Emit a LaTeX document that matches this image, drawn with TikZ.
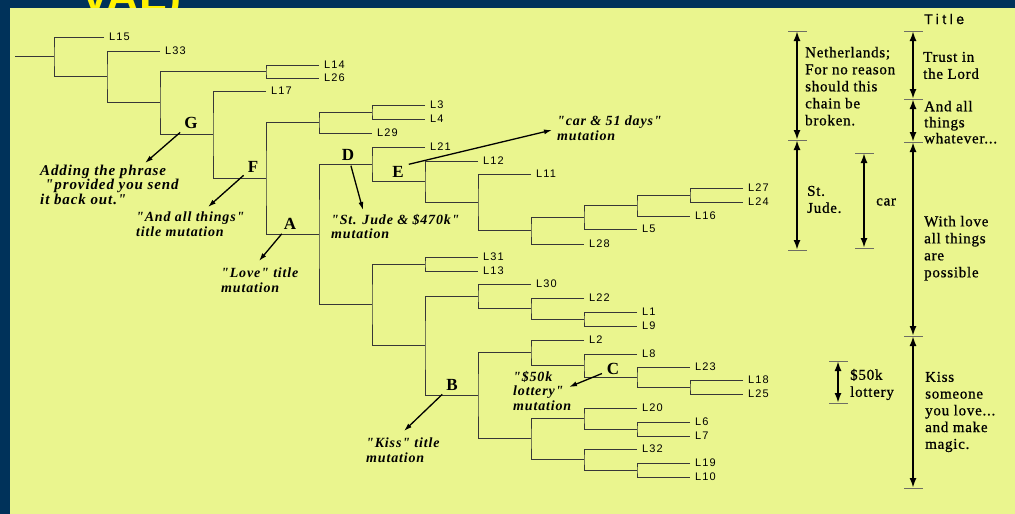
\documentclass[tikz,border=0pt]{standalone}
\usepackage{fontspec}
\setmainfont{Liberation Serif}
\newfontfamily\leaffont[LetterSpace=10]{Liberation Sans}
\newfontfamily\titlefont[LetterSpace=25,FakeBold=1]{Liberation Sans}
\newfontfamily\headfont{Liberation Sans}
\newfontfamily\notefont[LetterSpace=6]{Liberation Serif}
\newfontfamily\sidefont[LetterSpace=5,FakeBold=0.8]{Liberation Serif}
\usetikzlibrary{arrows.meta}
\definecolor{slidebg}{RGB}{0,50,90}
\definecolor{panel}{RGB}{234,245,142}
\definecolor{treegray}{RGB}{55,55,55}
\definecolor{tickgray}{RGB}{110,110,100}

\begin{document}
\begin{tikzpicture}[x=1pt,y=-1pt]
\tikzset{branch/.style={draw=treegray, line width=0.9pt},
  leaf/.style={anchor=west, inner sep=0pt, inner xsep=5pt, font=\leaffont\fontsize{11}{12}\selectfont},
  clade/.style={font=\bfseries\fontsize{17}{18}\selectfont, inner sep=1pt},
  note/.style={anchor=north west, align=left, inner sep=0pt, font=\notefont\bfseries\itshape\fontsize{14}{14.5}\selectfont},
  notearrow/.style={draw, line width=1.3pt, shorten <=4pt, -{Latex[length=8pt,width=5pt]}},
  side/.style={anchor=north west, align=left, inner sep=0pt, font=\sidefont\fontsize{15}{17}\selectfont},
  span/.style={line width=2.2pt, {Latex[length=10pt,width=7pt]}-{Latex[length=10pt,width=7pt]}},
  tick/.style={draw=tickgray, line width=0.9pt}}
\useasboundingbox (0,0) rectangle (1015,514);
\fill[slidebg] (0,0) rectangle (1015,514);
\node[anchor=base west, inner sep=0pt, text=yellow, font=\headfont\bfseries\fontsize{45}{45}\selectfont] (head) at (80,12) {VAL)};
\fill[panel] (10,8) rectangle (1015,514);

% internal nodes of the tree
\coordinate (stub) at (15,56.5);
\coordinate (root) at (54,56.5);
\coordinate (n1) at (107,76.5);
\coordinate (n2) at (160,102.5);
\coordinate (n3) at (266,71.5);
\coordinate (g) at (213,134);
\coordinate (f) at (266,178);
\coordinate (n4) at (319,122.5);
\coordinate (n5) at (372,112);
\coordinate (a) at (319,234);
\coordinate (d) at (372,164);
\coordinate (e) at (425,181.5);
\coordinate (n7) at (478,202.5);
\coordinate (n8) at (531,230);
\coordinate (n9) at (584,217);
\coordinate (n10) at (637,205);
\coordinate (n11) at (690,195);
\coordinate (n6) at (372,304);
\coordinate (n12) at (425,264);
\coordinate (n13) at (425,345);
\coordinate (n14) at (478,296);
\coordinate (n15) at (531,308);
\coordinate (n16) at (584,319);
\coordinate (b) at (478,395);
\coordinate (n17) at (531,352);
\coordinate (c) at (584,365.5);
\coordinate (n19) at (637,377);
\coordinate (n20) at (690,387);
\coordinate (n18) at (531,438.5);
\coordinate (n21) at (584,418);
\coordinate (n23) at (637,429);
\coordinate (n22) at (584,459.5);
\coordinate (n24) at (637,470);

% leaves
\node[leaf] (L15) at (104,37) {L15};
\node[leaf] (L33) at (160,51) {L33};
\node[leaf] (L14) at (319,65) {L14};
\node[leaf] (L26) at (319,78) {L26};
\node[leaf] (L17) at (266,91) {L17};
\node[leaf] (L3) at (425,105) {L3};
\node[leaf] (L4) at (425,119) {L4};
\node[leaf] (L29) at (372,133) {L29};
\node[leaf] (L21) at (425,147) {L21};
\node[leaf] (L12) at (478,161) {L12};
\node[leaf] (L11) at (531,174) {L11};
\node[leaf] (L27) at (743,188) {L27};
\node[leaf] (L24) at (743,202) {L24};
\node[leaf] (L16) at (690,216) {L16};
\node[leaf] (L5) at (637,229) {L5};
\node[leaf] (L28) at (584,244) {L28};
\node[leaf] (L31) at (478,257) {L31};
\node[leaf] (L13) at (478,271) {L13};
\node[leaf] (L30) at (531,284) {L30};
\node[leaf] (L22) at (584,298) {L22};
\node[leaf] (L1) at (637,312) {L1};
\node[leaf] (L9) at (637,326) {L9};
\node[leaf] (L2) at (584,340) {L2};
\node[leaf] (L8) at (637,354) {L8};
\node[leaf] (L23) at (690,367) {L23};
\node[leaf] (L18) at (743,380) {L18};
\node[leaf] (L25) at (743,394) {L25};
\node[leaf] (L20) at (637,408) {L20};
\node[leaf] (L6) at (690,422) {L6};
\node[leaf] (L7) at (690,436) {L7};
\node[leaf] (L32) at (637,449) {L32};
\node[leaf] (L19) at (690,463) {L19};
\node[leaf] (L10) at (690,477) {L10};

% branches
\draw[branch] (stub) -- (root);
\draw[branch] (L15) -| (root) |- (n1);
\draw[branch] (L33) -| (n1) |- (n2);
\draw[branch] (n3) -| (n2) |- (g);
\draw[branch] (L14) -| (n3) |- (L26);
\draw[branch] (L17) -| (g) |- (f);
\draw[branch] (n4) -| (f) |- (a);
\draw[branch] (n5) -| (n4) |- (L29);
\draw[branch] (L3) -| (n5) |- (L4);
\draw[branch] (d) -| (a) |- (n6);
\draw[branch] (L21) -| (d) |- (e);
\draw[branch] (L12) -| (e) |- (n7);
\draw[branch] (L11) -| (n7) |- (n8);
\draw[branch] (n9) -| (n8) |- (L28);
\draw[branch] (n10) -| (n9) |- (L5);
\draw[branch] (n11) -| (n10) |- (L16);
\draw[branch] (L27) -| (n11) |- (L24);
\draw[branch] (n12) -| (n6) |- (n13);
\draw[branch] (L31) -| (n12) |- (L13);
\draw[branch] (n14) -| (n13) |- (b);
\draw[branch] (L30) -| (n14) |- (n15);
\draw[branch] (L22) -| (n15) |- (n16);
\draw[branch] (L1) -| (n16) |- (L9);
\draw[branch] (n17) -| (b) |- (n18);
\draw[branch] (L2) -| (n17) |- (c);
\draw[branch] (L8) -| (c) |- (n19);
\draw[branch] (L23) -| (n19) |- (n20);
\draw[branch] (L18) -| (n20) |- (L25);
\draw[branch] (n21) -| (n18) |- (n22);
\draw[branch] (L20) -| (n21) |- (n23);
\draw[branch] (L6) -| (n23) |- (L7);
\draw[branch] (L32) -| (n22) |- (n24);
\draw[branch] (L19) -| (n24) |- (L10);

% clade letters and mutations
\node[clade] (lblG) at (191,123) {G};
\node[clade] (lblF) at (253,167) {F};
\node[clade] (lblA) at (290,224) {A};
\node[clade] (lblD) at (348,155) {D};
\node[clade] (lblE) at (398,172) {E};
\node[clade] (lblB) at (452,385) {B};
\node[clade] (lblC) at (613,369) {C};

\node[note, font=\notefont\bfseries\itshape\fontsize{15}{14.5}\selectfont] (noteG) at (40,164.7) {Adding the phrase\\\hspace{5pt}"provided you send\\it back out."};
\node[note] (noteF) at (136,211.7) {"And all things"\\title mutation};
\node[note] (noteA) at (221,267.7) {"Love" title\\mutation};
\node[note] (noteD) at (331,213.7) {"St. Jude \& \$470k"\\mutation};
\node[note] (noteE) at (557,115.7) {"car \& 51 days"\\mutation};
\node[note] (noteC) at (513,370.7) {"\$50k\\lottery"\\mutation};
\node[note] (noteB) at (366,437.7) {"Kiss" title\\mutation};

\coordinate (hG) at (145,163);
\coordinate (hF) at (208,207);
\coordinate (hA) at (259,261);
\coordinate (hD) at (363,210);
\coordinate (hE) at (552,130);
\coordinate (hC) at (569,387);
\coordinate (hB) at (404,431);
\draw[notearrow] (lblG) -- (hG);
\draw[notearrow] (lblF) -- (hF);
\draw[notearrow] (lblA) -- (hA);
\draw[notearrow] (lblD) -- (hD);
\draw[notearrow] (lblE.north east) -- (hE);
\draw[notearrow] (lblC) -- (hC);
\draw[notearrow] (lblB) -- (hB);

% title spans on the right
\coordinate (s1a) at (797,31);
\coordinate (s1b) at (797,140);
\coordinate (s1c) at (797,250);
\coordinate (s2a) at (864,153);
\coordinate (s2b) at (864,248);
\coordinate (s3a) at (838,361);
\coordinate (s3b) at (838,403);
\coordinate (s4a) at (913,31);
\coordinate (s4b) at (913,99);
\coordinate (s4c) at (913,142);
\coordinate (s4d) at (913,336);
\coordinate (s4e) at (913,488);
\foreach \t in {s1a,s1b,s1c,s2a,s2b,s3a,s3b,s4a,s4b,s4c,s4d,s4e}
  \draw[tick] ([xshift=-9pt]\t) -- ([xshift=10pt]\t);
\draw[span] (s1a) -- (s1b);
\draw[span] (s1b) -- (s1c);
\draw[span] (s2a) -- (s2b);
\draw[span] (s3a) -- (s3b);
\draw[span] (s4a) -- (s4b);
\draw[span] (s4b) -- (s4c);
\draw[span] (s4c) -- (s4d);
\draw[span] (s4d) -- (s4e);

\node[anchor=west, inner sep=0pt, font=\titlefont\fontsize{14}{14}\selectfont] (title) at (924,19) {Title};
\node[side] (netherlands) at (805,46.7) {Netherlands;\\For no reason\\should this\\chain be\\broken.};
\node[side] (stjude) at (807,185.7) {St.\\Jude.};
\node[side, anchor=west] (car) at (876,202) {car};
\node[side] (lottery) at (850,368.7) {\$50k\\lottery};
\node[side] (trust) at (923,51.7) {Trust in\\the Lord};
\node[side, font=\sidefont\fontsize{15}{16}\selectfont] (andall) at (924,100.7) {And all\\things\\whatever...};
\node[side] (withlove) at (924,215.7) {With love\\all things\\are\\possible};
\node[side, font=\sidefont\fontsize{15}{16.75}\selectfont] (kiss) at (925,371.7) {Kiss\\someone\\you love...\\and make\\magic.};
\end{tikzpicture}
\end{document}
